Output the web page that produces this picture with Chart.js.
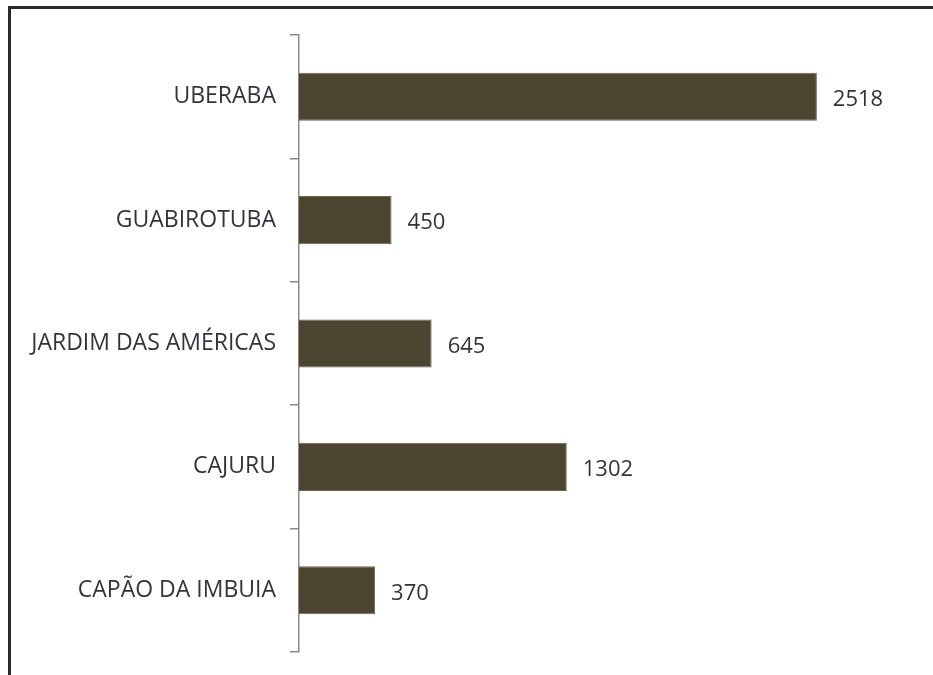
<!DOCTYPE html>
<html>
<head>
<meta charset="utf-8">
<script src="https://cdn.jsdelivr.net/npm/chart.js@4/dist/chart.umd.min.js"></script>
<style>
  html, body { margin: 0; padding: 0; background: #fff; }
  #wrap { position: relative; width: 933px; height: 675px; }
  #frame {
    position: absolute; left: 8px; top: 6px; right: 0; bottom: 0;
    border-top: 3px solid #2a2a2a; border-left: 3px solid #2a2a2a;
  }
  canvas { position: absolute; left: 0; top: 0; }
</style>
</head>
<body>
<div id="wrap">
  <div id="frame"></div>
  <canvas id="chart" width="933" height="675"></canvas>
</div>
<script>
// data
let bairros = ["UBERABA", "GUABIROTUBA", "JARDIM DAS AMÉRICAS", "CAJURU", "CAPÃO DA IMBUIA"];
let valores = [2518, 450, 645, 1302, 370];

let barColor = "#4b4530";
let textColor = "#33333d";
let fontFamily = "'Open Sans', 'Liberation Sans', sans-serif";

// VALUE LABELS
let valueLabels = {
  id: "valueLabels",
  afterDatasetsDraw(chart) {
    let ctx = chart.ctx;
    let meta = chart.getDatasetMeta(0);
    ctx.save();
    ctx.font = "22px " + fontFamily;
    ctx.fillStyle = textColor;
    ctx.textAlign = "left";
    ctx.textBaseline = "middle";
    meta.data.forEach((bar, i) => {
      ctx.fillText(valores[i], bar.x + 16, bar.y + 3);
    });
    ctx.restore();
  }
};

new Chart(document.getElementById("chart"), {
  type: "bar",
  data: {
    labels: bairros,
    datasets: [{
      data: valores,
      backgroundColor: barColor,
      borderColor: "#6b6550",
      borderWidth: 1,
      categoryPercentage: 1,
      barPercentage: 0.39
    }]
  },
  options: {
    indexAxis: "y",
    responsive: false,
    animation: false,
    layout: { padding: { left: 0, top: 35, bottom: 23, right: 17 } },
    plugins: { legend: { display: false }, tooltip: { enabled: false } },
    scales: {
      x: { display: false, min: 0, max: 3000 },
      y: {
        afterFit(scale) {
          scale.width = 299;
          scale.paddingTop = 0;
          scale.paddingBottom = 0;
        },
        border: { display: true, color: "#8a8a8a", width: 1.5 },
        grid: {
          offset: true,
          drawOnChartArea: false,
          drawTicks: true,
          tickLength: 9,
          color: "#8a8a8a",
          lineWidth: 1.5
        },
        ticks: {
          padding: 14,
          color: textColor,
          font: { size: 23, family: fontFamily }
        }
      }
    }
  },
  plugins: [valueLabels]
});
</script>
</body>
</html>
